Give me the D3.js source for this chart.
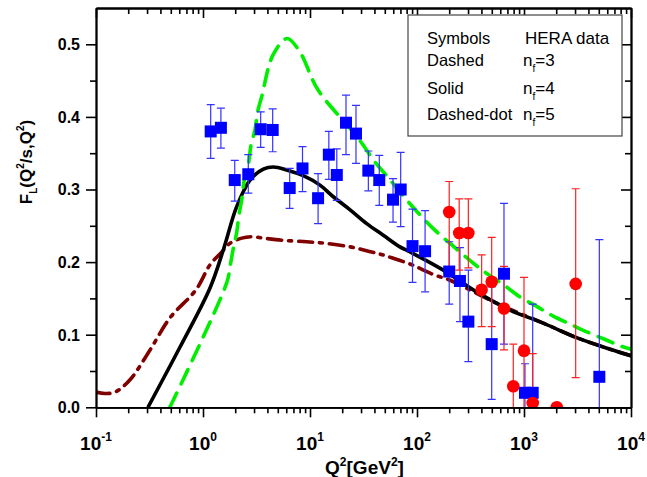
<!DOCTYPE html>
<html><head><meta charset="utf-8">
<script src="https://cdn.jsdelivr.net/npm/d3@7"></script>
<style>body{margin:0;background:#fff}svg{display:block}</style>
</head><body>
<svg id="c" width="647" height="477"></svg>
<script>
// HERA data, blue squares
const blueQ2 = [1.18,1.47,1.98,2.65,3.46,4.48,6.46,8.51,11.9,15.0,17.8,21.7,26.9,35.1,44.4,59.7,70.4,90.8,119,200,252,302,499,650,1021,1206,5058];
const blueF  = [0.380,0.385,0.313,0.321,0.383,0.382,0.302,0.329,0.288,0.348,0.320,0.392,0.377,0.326,0.313,0.286,0.300,0.222,0.215,0.187,0.174,0.118,0.087,0.184,0.020,0.020,0.042];
const blueHi = [0.417,0.412,0.340,0.348,0.407,0.411,0.329,0.359,0.322,0.380,0.356,0.430,0.416,0.353,0.347,0.315,0.351,0.273,0.271,0.228,0.220,0.189,0.166,0.281,0.060,0.142,0.231];
const blueLo = [0.343,0.357,0.284,0.295,0.358,0.352,0.274,0.297,0.253,0.314,0.285,0.348,0.336,0.298,0.278,0.255,0.249,0.172,0.159,0.142,0.118,0.063,0.011,0.087,-0.1,-0.1,-0.1];
// HERA data, red circles
const redQ2 = [200,248,302,402,499,650,794,1000,1206,2023,3041];
const redF  = [0.269,0.240,0.240,0.162,0.173,0.136,0.029,0.078,0.006,0.000,0.170];
const redHi = [0.311,0.287,0.287,0.210,0.234,0.194,0.087,0.179,0.074,0.000,0.301];
const redLo = [0.189,0.189,0.192,0.111,0.111,0.079,-0.1,-0.1,-0.1,0.000,0.041];
// nf=3 dashed (green)
const nf3Q2 = [0.49,1.67,1.79,1.92,2.06,2.17,2.30,2.43,2.65,2.81,3.06,3.24,3.54,4.5,6.1,8.0,11.9,23.7,30.4,40.4,52.7,74.5,100.7,147,203,308,423,641,918,1315,1855,2750,3850,5810,8150,10000];
const nf3F  = [0.0,0.172,0.194,0.219,0.240,0.265,0.286,0.313,0.334,0.361,0.382,0.407,0.428,0.485,0.508,0.490,0.437,0.384,0.364,0.338,0.318,0.291,0.269,0.244,0.226,0.203,0.187,0.169,0.152,0.139,0.126,0.114,0.104,0.093,0.084,0.080];
// nf=4 solid (black)
const nf4Q2 = [0.306,0.61,1.16,1.55,2.06,2.75,3.66,4.54,6.05,8.65,12.4,16.5,23.7,33.9,48.4,69.3,86.1,176,361,740,1513,3100,6370,10000];
const nf4F  = [0.0,0.083,0.164,0.217,0.276,0.313,0.328,0.331,0.327,0.319,0.306,0.290,0.272,0.253,0.237,0.221,0.214,0.189,0.159,0.134,0.116,0.096,0.080,0.071];
// nf=5 dashed-dot (maroon)
const nf5Q2 = [0.1,0.121,0.151,0.208,0.32,0.49,0.861,1.16,1.50,1.79,2.30,2.85,3.66,5.62,9.3,13.8,23.7,35.1,45.1,58.0,87.3,111,147,196,361,641,1513,3100,6370,10000];
const nf5F  = [0.021,0.019,0.021,0.038,0.079,0.123,0.162,0.196,0.214,0.226,0.233,0.235,0.233,0.230,0.228,0.226,0.221,0.215,0.211,0.206,0.197,0.190,0.182,0.176,0.157,0.139,0.116,0.096,0.080,0.071];
// ticks
const xMajor = [0.1,1,10,100,1000,10000];
const xMajorExp = ["-1","0","1","2","3","4"];
const yMajor = [0,0.1,0.2,0.3,0.4,0.5];
const legendRows = [["Symbols","HERA data",""],["Dashed","n","3"],["Solid","n","4"],["Dashed-dot","n","5"]];

const L=96,R=631,T=8,B=407.3;
const svg=d3.select("#c");
const x=d3.scaleLog().domain([0.1,1e4]).range([L,R]);
const y=d3.scaleLinear().domain([0,0.55]).range([B,T]);
const xMinor=[];
for(let d=0.1;d<5000;d*=10){for(let k=2;k<=9;k++)xMinor.push(+(d*k).toPrecision(3));}
const yMinor=[0.05,0.15,0.25,0.35,0.45];

svg.append("defs").append("clipPath").attr("id","clip").append("rect")
  .attr("x",L).attr("y",T).attr("width",R-L).attr("height",B-T);

const plot=svg.append("g").attr("clip-path","url(#clip)");

// curves
const line=d3.line().x(d=>x(d[0])).y(d=>y(d[1])).curve(d3.curveCatmullRom.alpha(0.5));
plot.append("path").datum(nf5Q2.map((q,i)=>[q,nf5F[i]])).attr("d",line)
  .attr("fill","none").attr("stroke","#800000").attr("stroke-width",3.6)
  .attr("stroke-dasharray","14,7,3,7").attr("stroke-linecap","round");
plot.append("path").datum(nf4Q2.map((q,i)=>[q,nf4F[i]])).attr("d",line)
  .attr("fill","none").attr("stroke","#000").attr("stroke-width",3.6);
plot.append("path").datum(nf3Q2.map((q,i)=>[q,nf3F[i]])).attr("d",line)
  .attr("fill","none").attr("stroke","#00ee00").attr("stroke-width",3.6)
  .attr("stroke-dasharray","16,10").attr("stroke-linecap","round");

// error bars + markers
function errs(qs,fs,hi,lo,col){
  const g=plot.append("g").attr("stroke",col).attr("stroke-width",1.2);
  qs.forEach((q,i)=>{
    if(hi[i]===lo[i])return;
    const cx=x(q);
    g.append("line").attr("x1",cx).attr("x2",cx).attr("y1",y(hi[i])).attr("y2",y(lo[i]));
    g.append("line").attr("x1",cx-4).attr("x2",cx+4).attr("y1",y(hi[i])).attr("y2",y(hi[i]));
    g.append("line").attr("x1",cx-4).attr("x2",cx+4).attr("y1",y(lo[i])).attr("y2",y(lo[i]));
  });
}
errs(blueQ2,blueF,blueHi,blueLo,"#3333ff");
errs(redQ2,redF,redHi,redLo,"#ff2020");
plot.append("g").selectAll("rect").data(blueQ2).join("rect")
  .attr("x",(q)=>x(q)-6).attr("y",(q,i)=>y(blueF[i])-6).attr("width",12).attr("height",12)
  .attr("fill","#0000ff");
plot.append("g").selectAll("circle").data(redQ2).join("circle")
  .attr("cx",q=>x(q)).attr("cy",(q,i)=>y(redF[i])).attr("r",6.3).attr("fill","#ff0000");

// axes
function styleAxis(g){g.selectAll("path,line").attr("stroke","#000").attr("stroke-width",1.6);g.select(".domain").attr("stroke-width",1.8);}
svg.append("g").attr("transform",`translate(0,${B})`).call(d3.axisBottom(x).tickValues(xMinor).tickSize(6).tickFormat("").tickSizeOuter(0)).call(styleAxis);
svg.append("g").attr("transform",`translate(0,${B})`).call(d3.axisBottom(x).tickValues(xMajor).tickSize(10).tickFormat("").tickSizeOuter(0)).call(styleAxis);
svg.append("g").attr("transform",`translate(0,${T})`).call(d3.axisTop(x).tickValues(xMinor).tickSize(-6).tickFormat("").tickSizeOuter(0)).call(styleAxis);
svg.append("g").attr("transform",`translate(0,${T})`).call(d3.axisTop(x).tickValues(xMajor).tickSize(-10).tickFormat("").tickSizeOuter(0)).call(styleAxis);
svg.append("g").attr("transform",`translate(${L},0)`).call(d3.axisLeft(y).tickValues(yMinor).tickSize(6).tickFormat("").tickSizeOuter(0)).call(styleAxis);
svg.append("g").attr("transform",`translate(${L},0)`).call(d3.axisLeft(y).tickValues(yMajor).tickSize(10).tickFormat("").tickSizeOuter(0)).call(styleAxis);
svg.append("g").attr("transform",`translate(${R},0)`).call(d3.axisRight(y).tickValues(yMinor).tickSize(-6).tickFormat("").tickSizeOuter(0)).call(styleAxis);
svg.append("g").attr("transform",`translate(${R},0)`).call(d3.axisRight(y).tickValues(yMajor).tickSize(-10).tickFormat("").tickSizeOuter(0)).call(styleAxis);

const font="Liberation Sans, Arial, sans-serif";
// y tick labels
svg.append("g").selectAll("text").data(yMajor).join("text")
  .attr("x",L-16).attr("y",d=>y(d)+5.8).attr("text-anchor","end")
  .attr("font-family",font).attr("font-weight","bold").attr("font-size",16)
  .text(d=>d3.format(".1f")(d));
// x tick labels
xMajor.forEach((v,i)=>{
  const t=svg.append("text").attr("x",x(v)).attr("y",450).attr("text-anchor","middle")
    .attr("font-family",font).attr("font-weight","bold").attr("font-size",19);
  t.append("tspan").text("10");
  t.append("tspan").attr("dy",-9).attr("font-size",12).text(xMajorExp[i]);
});
// x axis title
{
  const t=svg.append("text").attr("x",(L+R)/2+1).attr("y",474).attr("text-anchor","middle")
    .attr("font-family",font).attr("font-weight","bold").attr("font-size",19);
  t.append("tspan").text("Q");
  t.append("tspan").attr("dy",-8).attr("font-size",12).text("2");
  t.append("tspan").attr("dy",8).text("[GeV");
  t.append("tspan").attr("dy",-8).attr("font-size",12).text("2");
  t.append("tspan").attr("dy",8).text("]");
}
// y axis title
{
  const t=svg.append("text").attr("transform","translate(32,162) rotate(-90)").attr("text-anchor","middle")
    .attr("font-family",font).attr("font-weight","bold").attr("font-size",17);
  t.append("tspan").text("F");
  t.append("tspan").attr("dy",5).attr("font-size",10).text("L");
  t.append("tspan").attr("dy",-5).text("(Q");
  t.append("tspan").attr("dy",-8).attr("font-size",10).text("2");
  t.append("tspan").attr("dy",8).text("/s,Q");
  t.append("tspan").attr("dy",-8).attr("font-size",10).text("2");
  t.append("tspan").attr("dy",8).text(")");
}
// legend
svg.append("rect").attr("x",408).attr("y",15).attr("width",214).attr("height",121)
  .attr("fill","#fff").attr("stroke","#444").attr("stroke-width",1.2);
const rowY=[44,66,94,120];
legendRows.forEach((r,i)=>{
  svg.append("text").attr("x",427).attr("y",rowY[i]).attr("font-family",font).attr("font-size",16.5).text(r[0]);
  const t=svg.append("text").attr("x",i===0?525:523).attr("y",rowY[i]).attr("font-family",font).attr("font-size",17);
  if(r[2]===""){t.text(r[1]);}
  else{
    t.append("tspan").text(r[1]);
    t.append("tspan").attr("dy",6).attr("font-size",10).text("f");
    t.append("tspan").attr("dy",-6).text("="+r[2]);
  }
});
</script>
</body></html>
